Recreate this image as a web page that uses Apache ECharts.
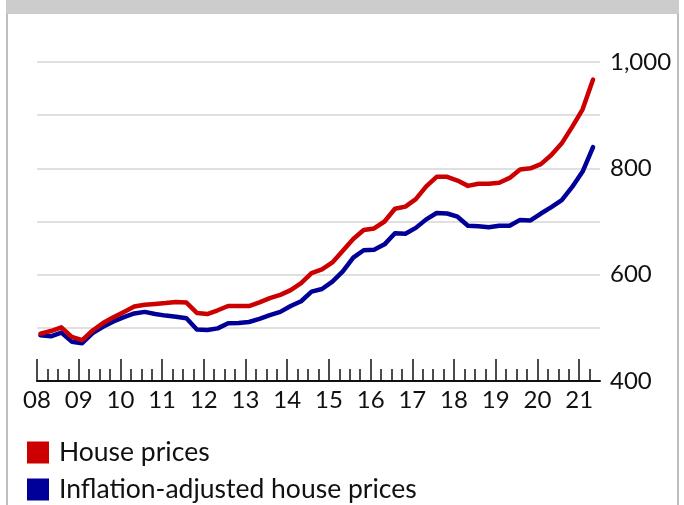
<!DOCTYPE html>
<html>
<head>
<meta charset="utf-8">
<script src="https://cdn.jsdelivr.net/npm/echarts@6/dist/echarts.min.js"></script>
<style>
html,body{margin:0;padding:0;background:#fff;}
#chart{width:684px;height:505px;}
</style>
</head>
<body>
<div id="chart"></div>
<script>
// Quarterly observations, 2008 Q1 .. 2021 Q2
const quarters = [
 "2008Q1","2008Q2","2008Q3","2008Q4","2009Q1","2009Q2","2009Q3","2009Q4",
 "2010Q1","2010Q2","2010Q3","2010Q4","2011Q1","2011Q2","2011Q3","2011Q4",
 "2012Q1","2012Q2","2012Q3","2012Q4","2013Q1","2013Q2","2013Q3","2013Q4",
 "2014Q1","2014Q2","2014Q3","2014Q4","2015Q1","2015Q2","2015Q3","2015Q4",
 "2016Q1","2016Q2","2016Q3","2016Q4","2017Q1","2017Q2","2017Q3","2017Q4",
 "2018Q1","2018Q2","2018Q3","2018Q4","2019Q1","2019Q2","2019Q3","2019Q4",
 "2020Q1","2020Q2","2020Q3","2020Q4","2021Q1","2021Q2"
];
const housePrices = [
 489,494,501,483,477,495,509,520,
 530,540,543.5,545,546.5,548.6,547.5,528,
 526,533,541,541,541,548,556,562,
 571,584,603,610,623,645,667,684,
 687,700,724,728,742,766,784,784,
 777,767,771,771,773,782,798,800,
 808,825,847,878,911,967
];
const realHousePrices = [
 486,484,491,474,471,490,502,512,
 520,527,530,526,523,521,518,497,
 496,499,508.5,509,511,517,524,530,
 541,550,568,573,587,606,632,646,
 647,657,678,677,688,704,716,715,
 709,692,691,689,692,692,703,702,
 715,727,740,765,794,840
];
const yearTicks = [2008,2009,2010,2011,2012,2013,2014,2015,2016,2017,2018,2019,2020,2021];
const seriesNames = ["House prices","Inflation-adjusted house prices"];
const colors = {red:"#cc0000", blue:"#000099"};

// position of each quarterly observation (middle month of the quarter)
function qx(label){
  const y = +label.slice(0,4), q = +label.slice(5);
  return y + (q-1)/4 + 1/12;
}
const quarterTicks = [];
yearTicks.forEach(y => { for (let q=0;q<4;q++){ const v=y+q/4; if (v<=2021.25) quarterTicks.push(v);} });

const font = "Lato, 'DejaVu Sans', sans-serif";
const legendText = {fontSize:26.5, color:'#111', fontFamily:font, padding:[0,0,0,5]};
const chart = echarts.init(document.getElementById('chart'), null, {renderer:'canvas'});
chart.setOption({
  animation:false,
  backgroundColor:'#ffffff',
  textStyle:{fontFamily:font},
  grid:{left:37, right:84, top:62, bottom:124, containLabel:false},
  legend:[{
    left:27, top:439, padding:0, itemWidth:22, itemHeight:22,
    icon:'rect', data:[seriesNames[0]], textStyle:legendText
  },{
    left:27, top:476, padding:0, itemWidth:22, itemHeight:22,
    icon:'rect', data:[seriesNames[1]], textStyle:legendText
  }],
  xAxis:[{
    type:'value', min:2008, max:2021.5, position:'bottom',
    axisLine:{show:true, lineStyle:{color:'#111', width:2}},
    axisTick:{show:true, inside:true, customValues:yearTicks, length:22, lineStyle:{color:'#111', width:1.5}},
    axisLabel:{show:true, customValues:yearTicks, margin:7, fontSize:24, color:'#111', fontFamily:font,
      formatter:v => String(Math.round(v)%100).padStart(2,'0')},
    splitLine:{show:false}
  },{
    type:'value', min:2008, max:2021.5, position:'bottom',
    axisLine:{show:false},
    axisTick:{show:true, inside:true, customValues:quarterTicks, length:12, lineStyle:{color:'#111', width:1.5}},
    axisLabel:{show:false},
    splitLine:{show:false}
  }],
  yAxis:{
    type:'value', position:'right', min:400, max:1000, interval:100,
    axisLine:{show:false}, axisTick:{show:false},
    axisLabel:{margin:10, fontSize:24, color:'#111', fontFamily:font,
      formatter:v => (v % 200 === 0 ? v.toLocaleString('en-US') : '')},
    splitLine:{show:true, lineStyle:{color:'#d6d6d6', width:1.5}}
  },
  series:[{
    name:seriesNames[1], type:'line', xAxisIndex:0, showSymbol:false, symbol:'none',
    data: quarters.map((q,i)=>[qx(q), realHousePrices[i]]),
    itemStyle:{color:colors.blue},
    lineStyle:{color:colors.blue, width:4.5, cap:'round', join:'round'},
    z:3
  },{
    name:seriesNames[0], type:'line', xAxisIndex:0, showSymbol:false, symbol:'none',
    data: quarters.map((q,i)=>[qx(q), housePrices[i]]),
    itemStyle:{color:colors.red},
    lineStyle:{color:colors.red, width:4.5, cap:'round', join:'round'},
    z:4
  }],
  graphic:[
    {type:'rect', shape:{x:6, y:0, width:673, height:14}, style:{fill:'#cccccc'}, silent:true},
    {type:'line', shape:{x1:7, y1:14, x2:7, y2:505}, style:{stroke:'#a9a9a9', lineWidth:1.5}, silent:true},
    {type:'line', shape:{x1:678, y1:14, x2:678, y2:505}, style:{stroke:'#a9a9a9', lineWidth:1.5}, silent:true}
  ]
});
</script>
</body>
</html>
